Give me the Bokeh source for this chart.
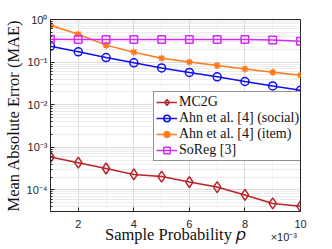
from bokeh.plotting import figure
from bokeh.models import (Range1d, FixedTicker, CustomJSTickFormatter, Legend,
                          LegendItem, LinearAxis)
from bokeh.embed import file_html
from bokeh.resources import INLINE

# ---- data (x in units of 1e-3) ----
p_vals = [1, 2, 3, 4, 5, 6, 7, 8, 9, 10]
mc2g = [5.9e-4, 4.35e-4, 3.17e-4, 2.3e-4, 2.05e-4, 1.52e-4, 1.16e-4, 7.6e-5, 4.8e-5, 4.1e-5]
ahn_social = [0.236, 0.174, 0.128, 0.096, 0.073, 0.057, 0.045, 0.035, 0.0275, 0.0218]
ahn_item = [0.73, 0.45, 0.25, 0.17, 0.123, 0.100, 0.083, 0.069, 0.058, 0.049]
soreg = [0.345, 0.34, 0.34, 0.34, 0.34, 0.34, 0.34, 0.34, 0.33, 0.31]

x_major = [2, 4, 6, 8, 10]
x_minor = [1, 3, 5, 7, 9]
y_major = [1e-4, 1e-3, 1e-2, 1e-1, 1.0]
y_minor = [k * 10.0 ** e for e in range(-5, 0) for k in range(2, 10)]
x_scale_label = "\u00d710\u207b\u00b3"
x_label = "Sample Probability \U0001D45D"
y_label = "Mean Absolute Error (MAE)"

SERIF = "Liberation Serif"
SANS = "Liberation Sans"
AX = "#262626"

p = figure(width=332, height=249, output_backend="svg", toolbar_location=None,
           y_axis_type="log",
           x_range=Range1d(1, 10), y_range=Range1d(3.1e-5, 1.0),
           min_border_left=46, min_border_right=32, min_border_top=19, min_border_bottom=38)

p.outline_line_color = AX
p.outline_line_width = 1

for ax in p.xaxis:
    ax.ticker = FixedTicker(ticks=x_major, minor_ticks=x_minor)
    ax.major_label_text_font = SANS
    ax.major_label_text_font_size = "11px"
    ax.major_label_text_color = AX
    ax.major_label_standoff = 8
    ax.major_tick_in = 4
    ax.major_tick_out = 0
    ax.minor_tick_in = 0
    ax.minor_tick_out = 0
    ax.axis_line_color = AX
    ax.major_tick_line_color = AX

# second bottom axis carrying the scale factor and the axis title
ax2 = LinearAxis(ticker=FixedTicker(ticks=[9.4], minor_ticks=[]),
                 formatter=CustomJSTickFormatter(code="return '%s';" % x_scale_label),
                 axis_line_color=None, major_tick_line_color=None, minor_tick_line_color=None,
                 major_tick_in=0, major_tick_out=0, minor_tick_in=0, minor_tick_out=0,
                 major_label_standoff=0, major_label_text_font=SANS,
                 major_label_text_font_size="11px", major_label_text_color=AX,
                 axis_label=x_label, axis_label_text_font=SERIF,
                 axis_label_text_font_size="16.5px", axis_label_text_font_style="normal",
                 axis_label_text_color="#111111", axis_label_standoff=-21)
p.add_layout(ax2, "below")

yfmt = CustomJSTickFormatter(code="""
const e = Math.round(Math.log10(tick));
const sup = {'-':'\\u207b','0':'\\u2070','1':'\\u00b9','2':'\\u00b2','3':'\\u00b3','4':'\\u2074','5':'\\u2075','6':'\\u2076','7':'\\u2077','8':'\\u2078','9':'\\u2079'};
return '10' + String(e).split('').map(c => sup[c]).join('');
""")
for ax in p.yaxis:
    ax.ticker = FixedTicker(ticks=y_major, minor_ticks=y_minor)
    ax.formatter = yfmt
    ax.major_label_text_font = SANS
    ax.major_label_text_font_size = "11px"
    ax.major_label_text_color = AX
    ax.major_label_standoff = 3
    ax.major_tick_in = 4
    ax.major_tick_out = 0
    ax.minor_tick_in = 2
    ax.minor_tick_out = 0
    ax.axis_line_color = AX
    ax.major_tick_line_color = AX
    ax.minor_tick_line_color = AX
    ax.axis_label = y_label
    ax.axis_label_text_font = SERIF
    ax.axis_label_text_font_size = "16.5px"
    ax.axis_label_text_font_style = "normal"
    ax.axis_label_text_color = "#111111"
    ax.axis_label_standoff = 1

p.xgrid.ticker = FixedTicker(ticks=x_major, minor_ticks=x_minor)
p.xgrid.grid_line_color = "#dcdcdc"
p.xgrid.minor_grid_line_color = "#e4e4e4"
p.xgrid.minor_grid_line_dash = "1 1"
p.ygrid.ticker = FixedTicker(ticks=y_major, minor_ticks=y_minor)
p.ygrid.grid_line_color = "#dcdcdc"
p.ygrid.minor_grid_line_color = "#d8d8d8"
p.ygrid.minor_grid_line_dash = "1 1"

RED = "#b8232b"
BLUE = "#1010ee"
ORANGE = "#ff7a1a"
MAG = "#d22cf5"

r1l = p.line(p_vals, mc2g, line_color=RED, line_width=1.5)
r1m = p.scatter(p_vals, mc2g, marker="diamond", size=11, line_color=RED, line_width=1.5,
                fill_color=None)
r2l = p.line(p_vals, ahn_social, line_color=BLUE, line_width=1.5)
r2m = p.scatter(p_vals, ahn_social, marker="circle", size=8, line_color=BLUE, line_width=1.5,
                fill_color=None)
r3l = p.line(p_vals, ahn_item, line_color=ORANGE, line_width=1.5)
r3m = p.scatter(p_vals, ahn_item, marker="asterisk", size=7, line_color=ORANGE, line_width=1.5)
r3d = p.scatter(p_vals, ahn_item, marker="circle", size=3.5, line_color=ORANGE, fill_color=ORANGE)
r4l = p.line(p_vals, soreg, line_color=MAG, line_width=1.5)
r4m = p.scatter(p_vals, soreg, marker="square", size=7.5, line_color=MAG, line_width=1.5,
                fill_color=None)

legend = Legend(items=[
    LegendItem(label="MC2G", renderers=[r1l, r1m]),
    LegendItem(label="Ahn et al. [4] (social)", renderers=[r2l, r2m]),
    LegendItem(label="Ahn et al. [4] (item)", renderers=[r3l, r3m, r3d]),
    LegendItem(label="SoReg [3]", renderers=[r4l, r4m]),
], location=(103, 50))
legend.label_text_font = SERIF
legend.label_text_font_size = "14px"
legend.label_text_color = "#111111"
legend.label_height = 16
legend.glyph_height = 16
legend.glyph_width = 21
legend.label_standoff = 2
legend.spacing = 0
legend.padding = 2
legend.margin = 0
legend.border_line_color = AX
legend.border_line_width = 1
legend.background_fill_color = "white"
legend.background_fill_alpha = 1
p.add_layout(legend, "center")

open("out.html", "w").write(file_html(p, INLINE))
